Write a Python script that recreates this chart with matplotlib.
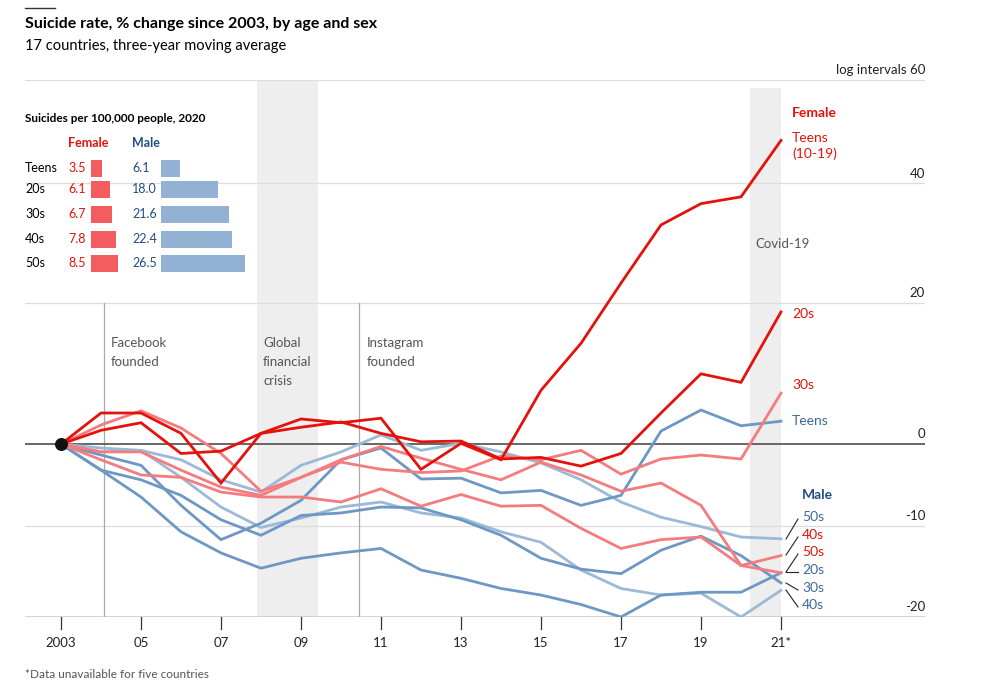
import numpy as np
import matplotlib
matplotlib.use("Agg")
import matplotlib.pyplot as plt

plt.rcParams['font.family'] = ['Lato', 'DejaVu Sans']

years = np.arange(2003, 2022)

# % change since 2003
f_teens = [0, 4.1, 4.1, 1.4, -4.9, 1.4, 3.3, 2.8, 3.4, -3.2, 0.1, -2.0, 7.2, 13.9, 23.1, 32.7, 36.4, 37.6, 48.0]
f_20s = [0, 1.8, 2.8, -1.2, -0.9, 1.4, 2.2, 2.9, 1.4, 0.3, 0.4, -1.9, -1.7, -2.8, -1.2, 4.1, 9.5, 8.3, 18.6]
f_30s = [0, -1.0, -1.0, -3.3, -5.4, -6.4, -4.2, -2.3, -3.2, -3.6, -3.4, -1.5, -2.0, -0.8, -3.8, -1.9, -1.4, -1.9, 6.8]
f_40s = [0, -2.0, -3.9, -4.2, -6.0, -6.6, -6.6, -7.2, -5.6, -7.7, -6.3, -7.7, -7.6, -10.3, -12.6, -11.6, -11.3, -14.5, -13.4]
f_50s = [0, 2.5, 4.4, 2.1, -1.2, -5.9, -4.2, -2.0, -0.3, -1.8, -3.2, -4.5, -2.3, -3.9, -5.9, -4.9, -7.6, -14.5, -15.3]
m_teens = [0, -1.4, -2.7, -7.6, -11.6, -9.7, -7.0, -2.0, -0.5, -4.4, -4.3, -6.1, -5.8, -7.6, -6.4, 1.7, 4.5, 2.4, 3.0]
m_20s = [0, -3.3, -6.6, -10.7, -13.1, -14.8, -13.7, -13.1, -12.6, -15.0, -15.9, -17.0, -17.7, -18.7, -20.0, -17.7, -17.4, -17.4, -15.3]
m_30s = [0, -3.3, -4.5, -6.4, -9.3, -11.1, -8.8, -8.5, -7.8, -7.9, -9.3, -11.1, -13.7, -14.9, -15.4, -12.8, -11.2, -13.4, -16.4]
m_40s = [0, -1.0, -0.8, -4.2, -7.8, -10.2, -9.1, -7.8, -7.2, -8.5, -9.1, -10.7, -11.9, -15.0, -17.0, -17.7, -17.5, -20.0, -17.2]
m_50s = [0, -0.5, -0.8, -2.0, -4.5, -6.0, -2.7, -1.0, 1.2, -0.8, 0.1, -1.0, -2.4, -4.5, -7.2, -9.0, -10.1, -11.3, -11.5]

# inset: suicides per 100,000 people, 2020
age_groups = ['Teens', '20s', '30s', '40s', '50s']
rate_female = [3.5, 6.1, 6.7, 7.8, 8.5]
rate_male = [6.1, 18.0, 21.6, 22.4, 26.5]

yticks = [60, 40, 20, 0, -10, -20]
xtick_years = [2003, 2005, 2007, 2009, 2011, 2013, 2015, 2017, 2019, 2021]
xtick_labels = ['2003', '05', '07', '09', '11', '13', '15', '17', '19', '21*']

RED = '#e3120b'
PINK = '#f47b7e'
BLUE = '#6e98c4'
LBLUE = '#9cb9d7'
GREY = '#555555'

W, H = 1002, 695


def tr(p):
    # log-interval scale
    return np.log1p(np.asarray(p, dtype=float) / 100)


def px(x, y):
    return x / W, 1 - y / H


fig = plt.figure(figsize=(W / 100, H / 100), dpi=100)
ax = fig.add_axes([25 / W, 1 - 617 / H, 900 / W, 537 / H])
ax.set_xlim(2002.1, 2024.6)
ax.set_ylim(tr(-20), tr(60))
for s in ax.spines.values():
    s.set_visible(False)
ax.set_xticks([])
ax.set_yticks([])

for t in yticks:
    if t == 0:
        ax.axhline(0, color='#666666', lw=1.4, zorder=2)
    elif t == -20:
        ax.axhline(tr(t), color='#cccccc', lw=1.2, zorder=1)
    else:
        ax.axhline(tr(t), color='#dddddd', lw=0.9, zorder=1)
    lab = 'log intervals 60' if t == 60 else str(t)
    ax.text(2024.6, tr(t) + 0.005, lab, ha='right', va='bottom', fontsize=9.5, color='#222222')

# shaded periods and event lines
ax.axvspan(2007.9, 2009.42, color='#eeeeee', zorder=0, lw=0)
ax.axvspan(2020.22, 2021.0, ymax=0.985, color='#eeeeee', zorder=0, lw=0)
ax.plot([2004.08, 2004.08], [tr(-20), tr(20)], color='#aaaaaa', lw=0.9, zorder=1)
ax.plot([2010.45, 2010.45], [tr(-20), tr(20)], color='#aaaaaa', lw=0.9, zorder=1)
ax.text(2004.25, tr(14.8), 'Facebook\nfounded', fontsize=9.5, color=GREY, va='top', linespacing=1.7)
ax.text(2008.05, tr(14.8), 'Global\nfinancial\ncrisis', fontsize=9.5, color=GREY, va='top', linespacing=1.7)
ax.text(2010.65, tr(14.8), 'Instagram\nfounded', fontsize=9.5, color=GREY, va='top', linespacing=1.7)
ax.text(2020.37, tr(29.5), 'Covid-19', fontsize=9.5, color=GREY, va='center')

series = [
    (m_40s, LBLUE), (m_50s, LBLUE), (m_20s, BLUE), (m_30s, BLUE), (m_teens, BLUE),
    (f_30s, PINK), (f_40s, PINK), (f_50s, PINK), (f_20s, RED), (f_teens, RED),
]
for vals, c in series:
    ax.plot(years, tr(vals), color=c, lw=2, zorder=3, solid_joinstyle='miter')
ax.scatter([2003], [0], s=70, color='#111111', zorder=5)

# x ticks
for yr, lab in zip(xtick_years, xtick_labels):
    ax.plot([yr, yr], [tr(-20), tr(-21.2)], color='#333333', lw=0.9, clip_on=False)
    ax.text(yr, tr(-22), lab, ha='center', va='top', fontsize=9.5, color='#222222')

# right-hand labels
fig.text(*px(792, 113), 'Female', color=RED, fontsize=10, weight='bold', va='center')
fig.text(*px(792, 146), 'Teens\n(10-19)', color=RED, fontsize=10, va='center', linespacing=1.4)
fig.text(*px(792, 314), '20s', color=RED, fontsize=10, va='center')
fig.text(*px(792, 385), '30s', color=RED, fontsize=10, va='center')
fig.text(*px(792, 421), 'Teens', color='#3d6a9e', fontsize=10, va='center')
fig.text(*px(802, 495), 'Male', color='#1f4e85', fontsize=10, weight='bold', va='center')
right_labels = [('50s', '#3d6a9e', 517, 539), ('40s', RED, 535, 555), ('50s', RED, 552, 572),
                ('20s', '#3d6a9e', 570, 572), ('30s', '#3d6a9e', 588, 583), ('40s', '#3d6a9e', 605, 590)]
for lab, c, ly, ey in right_labels:
    fig.text(*px(802, ly), lab, color=c, fontsize=10, va='center')
    x0, y0 = px(786, ey)
    x1, y1 = px(798, ly + 2)
    fig.add_artist(plt.Line2D([x0, x1], [y0, y1], color='#222222', lw=0.8))

# inset bars
fig.text(*px(25, 118), 'Suicides per 100,000 people, 2020', fontsize=8.5, weight='bold', va='center')
fig.text(*px(68, 143), 'Female', fontsize=9, weight='bold', color=RED, va='center')
fig.text(*px(132, 143), 'Male', fontsize=9, weight='bold', color='#1f4e85', va='center')
row_y = [168, 189, 214, 239, 263]
bax = fig.add_axes([91 / W, 1 - 276 / H, 160 / W, 120 / H])
bax.set_xlim(0, 160 / 3.17)
bax.set_ylim(276, 156)
bax.axis('off')
male_off = 70 / 3.17
bax.barh(row_y, rate_female, height=17, color='#f35d5f', left=0)
bax.barh(row_y, rate_male, height=17, color='#92b1d3', left=male_off)
for g, fv, mv, y in zip(age_groups, rate_female, rate_male, row_y):
    fig.text(*px(25, y), g, fontsize=9, va='center')
    fig.text(*px(68, y), f'{fv:.1f}', fontsize=9, color=RED, va='center')
    fig.text(*px(132, y), f'{mv:.1f}', fontsize=9, color='#1f4e85', va='center')

# titles
fig.add_artist(plt.Line2D([25 / W, 55 / W], [1 - 8 / H, 1 - 8 / H], color='#333333', lw=1))
fig.text(*px(25, 24), 'Suicide rate, % change since 2003, by age and sex', fontsize=11.5,
         weight='bold', va='center')
fig.text(*px(25, 46), '17 countries, three-year moving average', fontsize=10.5, va='center')
fig.text(*px(25, 674), '*Data unavailable for five countries', fontsize=8.5, color='#555555', va='center')

fig.savefig('out.png', dpi=100)
